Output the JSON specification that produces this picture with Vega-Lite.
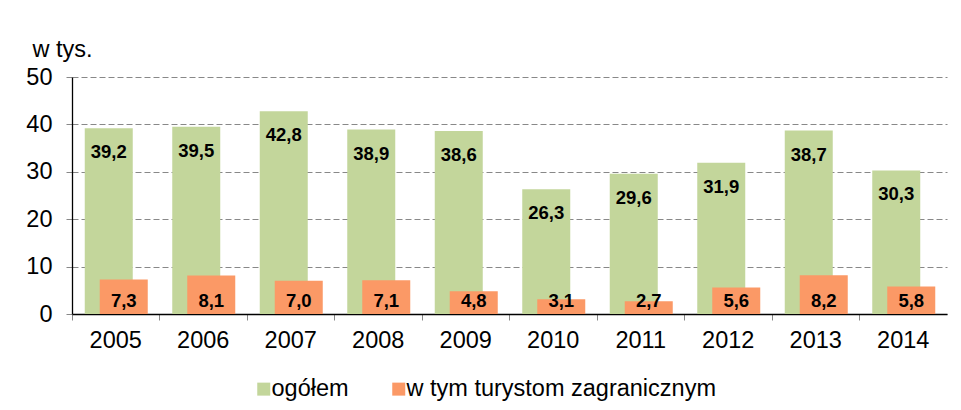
{
  "$schema": "https://vega.github.io/schema/vega-lite/v6.json",
  "width": 875,
  "height": 237,
  "autosize": {"type": "none"},
  "padding": {"left": 72, "top": 77, "right": 14, "bottom": 96},
  "background": "white",
  "config": {
    "font": "Liberation Sans",
    "view": {"stroke": null}
  },
  "data": {
    "values": [
      {"year": "2005", "series": "ogółem", "value": 39.2, "label": "39,2"},
      {"year": "2006", "series": "ogółem", "value": 39.5, "label": "39,5"},
      {"year": "2007", "series": "ogółem", "value": 42.8, "label": "42,8"},
      {"year": "2008", "series": "ogółem", "value": 38.9, "label": "38,9"},
      {"year": "2009", "series": "ogółem", "value": 38.6, "label": "38,6"},
      {"year": "2010", "series": "ogółem", "value": 26.3, "label": "26,3"},
      {"year": "2011", "series": "ogółem", "value": 29.6, "label": "29,6"},
      {"year": "2012", "series": "ogółem", "value": 31.9, "label": "31,9"},
      {"year": "2013", "series": "ogółem", "value": 38.7, "label": "38,7"},
      {"year": "2014", "series": "ogółem", "value": 30.3, "label": "30,3"},
      {"year": "2005", "series": "w tym turystom zagranicznym", "value": 7.3, "label": "7,3"},
      {"year": "2006", "series": "w tym turystom zagranicznym", "value": 8.1, "label": "8,1"},
      {"year": "2007", "series": "w tym turystom zagranicznym", "value": 7.0, "label": "7,0"},
      {"year": "2008", "series": "w tym turystom zagranicznym", "value": 7.1, "label": "7,1"},
      {"year": "2009", "series": "w tym turystom zagranicznym", "value": 4.8, "label": "4,8"},
      {"year": "2010", "series": "w tym turystom zagranicznym", "value": 3.1, "label": "3,1"},
      {"year": "2011", "series": "w tym turystom zagranicznym", "value": 2.7, "label": "2,7"},
      {"year": "2012", "series": "w tym turystom zagranicznym", "value": 5.6, "label": "5,6"},
      {"year": "2013", "series": "w tym turystom zagranicznym", "value": 8.2, "label": "8,2"},
      {"year": "2014", "series": "w tym turystom zagranicznym", "value": 5.8, "label": "5,8"}
    ]
  },
  "encoding": {
    "x": {
      "field": "year",
      "type": "nominal",
      "scale": {"paddingInner": 0, "paddingOuter": 0},
      "axis": {
        "title": null,
        "labelAngle": 0,
        "labelFontSize": 23.5,
        "labelColor": "#000000",
        "labelPadding": 8,
        "bandPosition": 0,
        "domainColor": "#000000",
        "domainWidth": 1.3,
        "tickColor": "#888888",
        "tickSize": 6,
        "grid": false
      }
    }
  },
  "layer": [
    {
      "transform": [{"filter": "datum.series === 'ogółem'"}],
      "mark": {"type": "bar", "width": 48, "xOffset": -7},
      "encoding": {
        "y": {
          "field": "value",
          "type": "quantitative",
          "scale": {"domain": [0, 50], "nice": false},
          "axis": {
            "values": [0, 10, 20, 30, 40, 50],
            "title": "w tys.",
            "titleAngle": 0,
            "titleFontSize": 23.5,
            "titleFontWeight": "normal",
            "titleColor": "#000000",
            "titleX": -40,
            "titleY": -28,
            "titleAlign": "left",
            "titleBaseline": "middle",
            "labelFontSize": 23.5,
            "labelColor": "#000000",
            "labelPadding": 14,
            "domainColor": "#000000",
            "domainWidth": 1.3,
            "tickColor": "#888888",
            "tickSize": 6,
            "gridColor": "#888888",
            "gridDash": [6, 3],
            "gridWidth": 1
          }
        },
        "color": {
          "field": "series",
          "type": "nominal",
          "scale": {
            "domain": ["ogółem", "w tym turystom zagranicznym"],
            "range": ["#c3d69b", "#fb9966"]
          },
          "legend": {
            "title": null,
            "orient": "none",
            "direction": "horizontal",
            "legendX": 180,
            "legendY": 300,
            "symbolType": "square",
            "symbolSize": 169,
            "symbolStrokeWidth": 0,
            "labelFontSize": 23.5,
            "labelColor": "#000000",
            "labelOffset": -4,
            "columnPadding": 38,
            "labelLimit": 400
          }
        }
      }
    },
    {
      "transform": [{"filter": "datum.series !== 'ogółem'"}],
      "mark": {"type": "bar", "width": 48, "xOffset": 8},
      "encoding": {
        "y": {"field": "value", "type": "quantitative"},
        "color": {"field": "series", "type": "nominal"}
      }
    },
    {
      "transform": [{"filter": "datum.series === 'ogółem'"}],
      "mark": {"type": "text", "xOffset": -7, "dy": 24, "fontSize": 18.5, "fontWeight": "bold", "baseline": "middle", "color": "#000000"},
      "encoding": {
        "y": {"field": "value", "type": "quantitative"},
        "text": {"field": "label"}
      }
    },
    {
      "transform": [{"filter": "datum.series !== 'ogółem'"}],
      "mark": {"type": "text", "xOffset": 8, "dy": -13, "fontSize": 18.5, "fontWeight": "bold", "baseline": "middle", "color": "#000000"},
      "encoding": {
        "y": {"datum": 0, "type": "quantitative"},
        "text": {"field": "label"}
      }
    }
  ]
}
